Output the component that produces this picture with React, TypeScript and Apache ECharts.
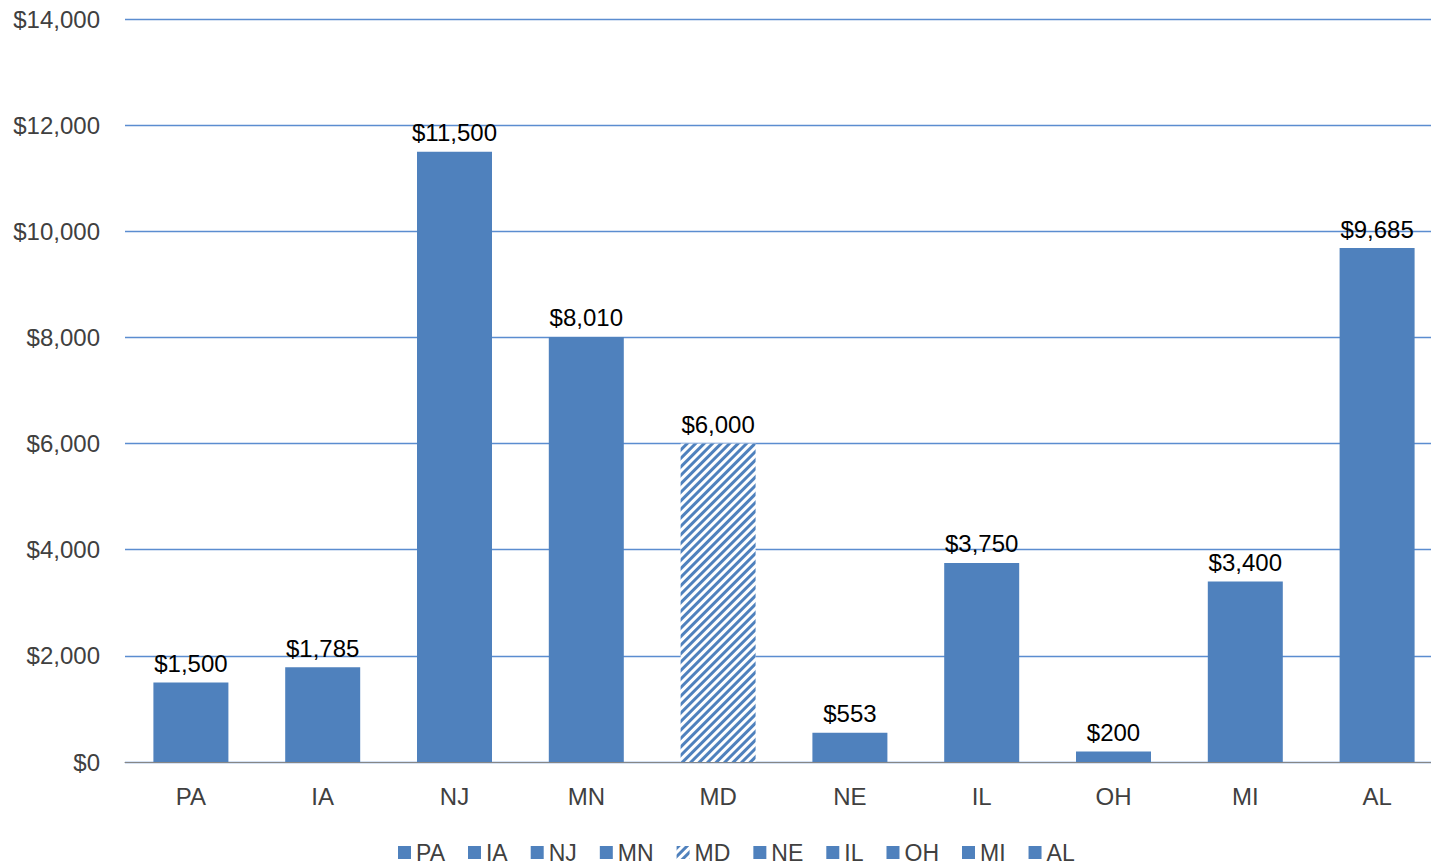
import React, { useEffect, useRef } from "react";
import * as echarts from "echarts";

const categories = ["PA", "IA", "NJ", "MN", "MD", "NE", "IL", "OH", "MI", "AL"];
const values = [1500, 1785, 11500, 8010, 6000, 553, 3750, 200, 3400, 9685];
const hatched = ["MD"];
const yTicks = { min: 0, max: 14000, interval: 2000 };

const BLUE = "#4f81bd";
const FONT = "'Liberation Sans', Arial, sans-serif";

const fmt = (v: number) => "$" + v.toLocaleString("en-US");

export default function App() {
  const ref = useRef<HTMLDivElement>(null);
  useEffect(() => {
    const chart = echarts.init(ref.current!, undefined, { renderer: "svg" });
    const series = categories.map((c, i) => {
      const isHatch = hatched.includes(c);
      return {
        name: c,
        type: "bar",
        stack: "all",
        barWidth: 75,
        data: categories.map((_, j) => (j === i ? values[i] : null)),
        itemStyle: isHatch
          ? {
              color: "#ffffff",
              decal: {
                symbol: "rect",
                color: BLUE,
                backgroundColor: "#ffffff",
                dashArrayX: [1, 0],
                dashArrayY: [2.5, 2.7],
                rotation: -Math.PI / 4,
              },
            }
          : { color: BLUE },
        label: {
          show: true,
          position: "top",
          distance: 7,
          formatter: (p: any) => fmt(p.value),
          color: "#000000",
          fontSize: 24,
          fontFamily: FONT,
        },
      };
    });
    chart.setOption({
      animation: false,
      backgroundColor: "#ffffff",
      grid: { left: 125, right: 0, top: 19, bottom: 102, containLabel: false },
      legend: {
        top: 841,
        left: 398,
        padding: 0,
        icon: "rect",
        itemWidth: 13,
        itemHeight: 13,
        itemGap: 23,
        textStyle: { fontSize: 23, color: "#404040", fontFamily: FONT },
        data: categories,
      },
      xAxis: {
        type: "category",
        data: categories,
        axisTick: { show: false },
        axisLine: { lineStyle: { color: "#868686", width: 1 } },
        axisLabel: { color: "#404040", fontSize: 24, fontFamily: FONT, margin: 22 },
      },
      yAxis: {
        type: "value",
        min: yTicks.min,
        max: yTicks.max,
        interval: yTicks.interval,
        axisLine: { show: false },
        axisTick: { show: false },
        splitLine: { lineStyle: { color: "#5b8dd0", width: 1.4 } },
        axisLabel: {
          color: "#404040",
          fontSize: 24,
          fontFamily: FONT,
          margin: 25,
          formatter: (v: number) => fmt(v),
        },
      },
      series,
    });
    return () => chart.dispose();
  }, []);
  return (
    <div
      style={{
        position: "fixed",
        left: 0,
        top: 0,
        width: 1431,
        height: 864,
        overflow: "hidden",
        background: "#ffffff",
      }}
    >
      <div ref={ref} style={{ width: 1443, height: 864 }} />
    </div>
  );
}
